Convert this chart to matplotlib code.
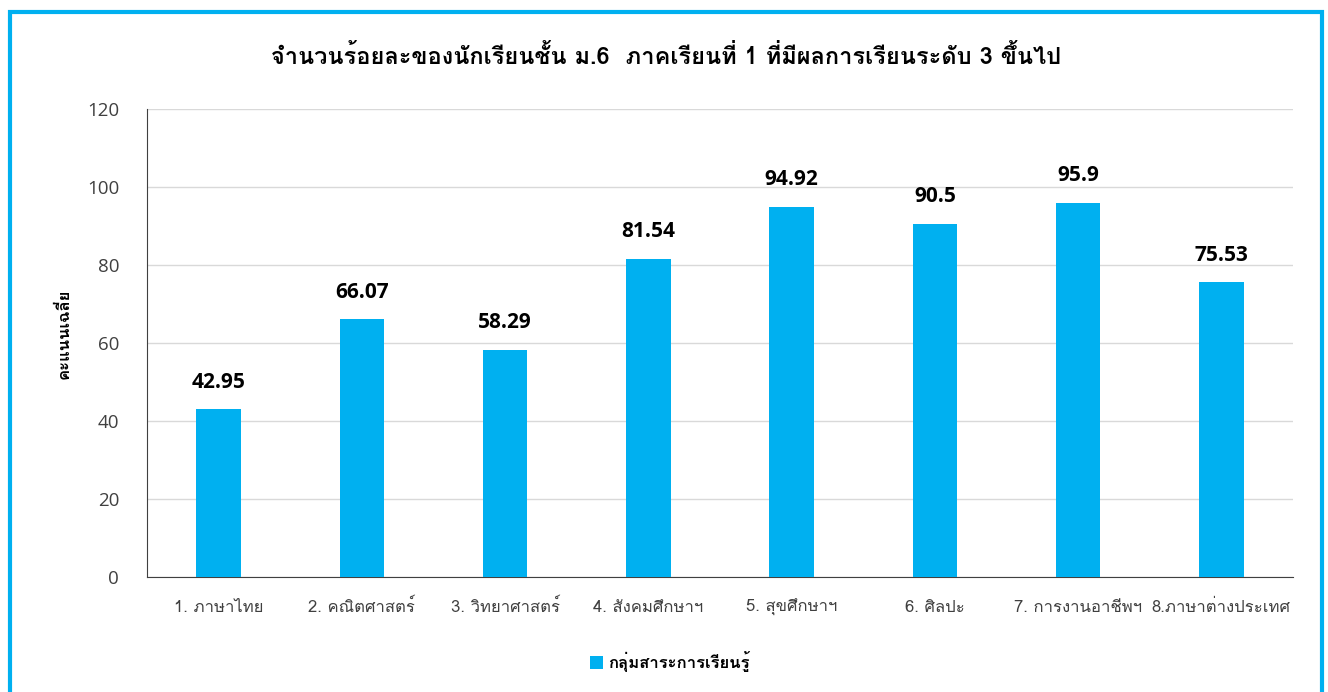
import matplotlib
matplotlib.use("Agg")
import matplotlib.pyplot as plt
from matplotlib.patches import Rectangle

THAI = ["Loma", "Sarabun", "DejaVu Sans"]
plt.rcParams['font.family'] = THAI

categories = ["1. ภาษาไทย", "2. คณิตศาสตร์", "3. วิทยาศาสตร์", "4. สังคมศึกษาฯ",
              "5. สุขศึกษาฯ", "6. ศิลปะ", "7. การงานอาชีพฯ", "8.ภาษาต่างประเทศ"]
values = [42.95, 66.07, 58.29, 81.54, 94.92, 90.5, 95.9, 75.53]
value_labels = ["42.95", "66.07", "58.29", "81.54", "94.92", "90.5", "95.9", "75.53"]
yticks = [0, 20, 40, 60, 80, 100, 120]
title = "จำนวนร้อยละของนักเรียนชั้น ม.6  ภาคเรียนที่ 1 ที่มีผลการเรียนระดับ 3 ขึ้นไป"
ylabel = "คะแนนเฉลี่ย"
legend_label = "กลุ่มสาระการเรียนรู้"

BAR = "#00B0F0"

fig = plt.figure(figsize=(13.28, 6.92), dpi=100)
ax = fig.add_axes([147/1328, 1-577/692, (1293-147)/1328, (577-109)/692])

x = list(range(len(categories)))
bars = ax.bar(x, values, width=0.31, color=BAR, label=legend_label, zorder=3)
ax.set_xlim(-0.5, len(categories) - 0.5)
ax.set_ylim(0, 120)
ax.set_yticks(yticks)
ax.set_yticklabels([str(t) for t in yticks], family=["Open Sans", "DejaVu Sans"], fontsize=13.5, color="#404040")
ax.set_xticks(x)
ax.set_xticklabels(categories, fontsize=12, color="#404040", va="baseline")
ax.tick_params(axis='both', length=0)
ax.tick_params(axis='y', pad=20)
ax.tick_params(axis='x', pad=25)
ax.grid(axis='y', color="#D9D9D9", linewidth=1, zorder=0)
for s in ["top", "right"]:
    ax.spines[s].set_visible(False)
ax.spines["left"].set_color("#404040")
ax.spines["bottom"].set_color("#404040")

for b, lab in zip(bars, value_labels):
    ax.annotate(lab, (b.get_x() + b.get_width()/2, b.get_height()), xytext=(0, 12),
                textcoords="offset points", ha="center", va="bottom",
                fontsize=15, fontweight="bold", color="#000000",
                family=["Open Sans", "DejaVu Sans"])

ax.set_ylabel(ylabel, fontsize=12, fontweight="bold")
ax.yaxis.set_label_coords(-0.066, 0.52)

fig.text(666/1328, 1-57/692, title, ha="center", va="center", fontsize=17, fontweight="bold")

leg = fig.legend(handles=[bars], labels=[legend_label], loc="center", bbox_to_anchor=(670/1328, 1-662/692),
                 frameon=False, handlelength=0.8, handleheight=0.8, handletextpad=0.3,
                 prop={"family": THAI, "size": 12, "weight": "bold"})

# figure border
fig.patches.append(Rectangle((9.5/1328, -0.05), (1321.5-9.5)/1328, 1.05 - 11.5/692,
                             transform=fig.transFigure, fill=False, edgecolor=BAR, linewidth=3, zorder=10))

fig.savefig("out.png", dpi=100)
